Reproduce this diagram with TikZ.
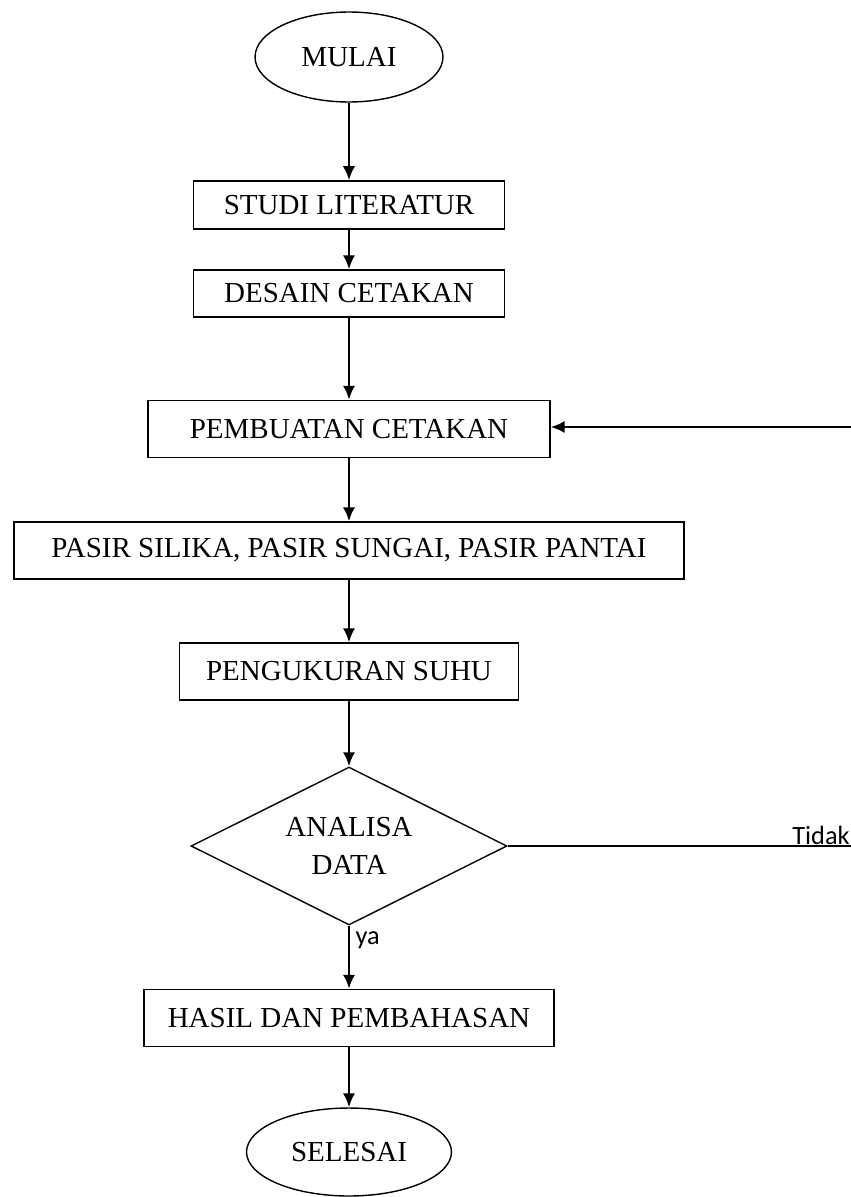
\documentclass[tikz,border=0pt]{standalone}
\usepackage{fontspec}
\setmainfont{Liberation Serif}
\newfontfamily\calibri{Carlito}
\usepackage{tikz}
\usetikzlibrary{shapes.geometric,arrows.meta}

\begin{document}
\begin{tikzpicture}[x=0.02cm,y=-0.02cm,>={Latex[length=8pt,width=7pt]},
  font=\fontsize{16.5}{21.5}\selectfont,
  kotak/.style={draw,line width=0.8pt,inner sep=0pt,align=center},
  oval/.style={draw,ellipse,line width=0.8pt,inner sep=0pt},
  belah/.style={draw,diamond,line width=0.8pt,inner sep=0pt,align=center,shape aspect=2},
  alur/.style={line width=1.4pt,->},
  ket/.style={font=\calibri\fontsize{15}{18}\selectfont,inner sep=0pt}]
\useasboundingbox (0,0) rectangle (851,1197);
\node[oval,minimum width=3.76cm,minimum height=1.8cm] (mulai) at (349,57) {MULAI};
\node[kotak,minimum width=6.22cm,minimum height=0.96cm] (studi) at (349,205) {STUDI LITERATUR};
\node[kotak,minimum width=6.22cm,minimum height=0.94cm] (desain) at (349,293.5) {DESAIN CETAKAN};
\node[kotak,minimum width=8.04cm,minimum height=1.14cm] (buat) at (349,429) {PEMBUATAN CETAKAN};
\node[kotak,minimum width=13.4cm,minimum height=1.14cm] (pasir) at (349,550.5) {PASIR SILIKA, PASIR SUNGAI, PASIR PANTAI};
\node[kotak,minimum width=6.78cm,minimum height=1.14cm] (suhu) at (349,671.5) {PENGUKURAN SUHU};
\node[belah,minimum width=6.32cm,minimum height=3.16cm] (analisa) at (349,846) {ANALISA\\DATA};
\node[kotak,minimum width=8.2cm,minimum height=1.14cm] (hasil) at (349,1018) {HASIL DAN PEMBAHASAN};
\node[oval,minimum width=4.1cm,minimum height=1.76cm] (selesai) at (349,1152) {SELESAI};
\coordinate (balik) at (851,427);
\coordinate (tidak) at (851,846);
\draw[alur] (mulai) -- (studi);
\draw[alur] (studi) -- (desain);
\draw[alur] (desain) -- (buat);
\draw[alur] (buat) -- (pasir);
\draw[alur] (pasir) -- (suhu);
\draw[alur] (suhu) -- (analisa);
\draw[alur] (analisa) -- (hasil) node[ket,pos=0.08,anchor=north west,xshift=3pt] (ya) {ya};
\draw[alur] (hasil) -- (selesai);
\draw[alur] (balik) -- (buat.east |- balik);
\draw[line width=0.7pt] (analisa.east) -- (tidak);
\node[ket,anchor=base west] (tdk) at (792,844) {Tidak};
\end{tikzpicture}
\end{document}
